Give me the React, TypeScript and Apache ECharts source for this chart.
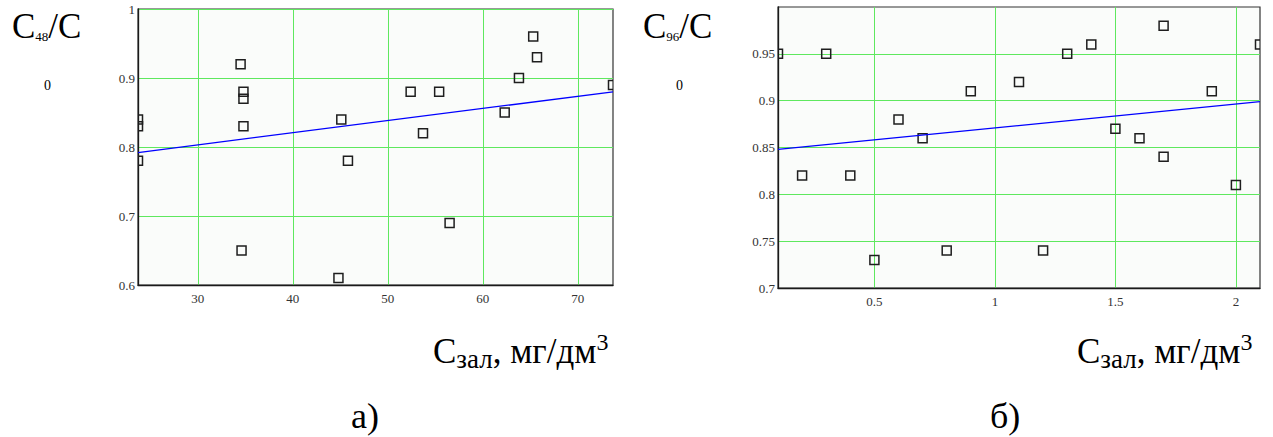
import React, { useEffect, useRef } from "react";
import * as echarts from "echarts";

// ---- Chart (а): C48/C0 vs Cзал ----
const xA = [23.7, 23.7, 23.7, 34.5, 34.8, 34.8, 34.8, 34.6, 45.1, 45.8, 44.8, 52.4, 55.4, 53.7, 56.5, 62.3, 63.8, 65.3, 65.7, 73.7];
const yA = [0.84, 0.83, 0.78, 0.92, 0.88, 0.87, 0.83, 0.65, 0.84, 0.78, 0.61, 0.88, 0.88, 0.82, 0.69, 0.85, 0.90, 0.96, 0.93, 0.89];
const trendAX = [23.7, 73.7];
const trendAY = [0.792, 0.88];
const rangeAX = [23.7, 73.7];
const rangeAY = [0.6, 1.0];
const xTicksA = [30, 40, 50, 60, 70];
const yTicksA = [0.6, 0.7, 0.8, 0.9, 1];

// ---- Chart (б): C96/C0 vs Cзал ----
const xB = [0.1, 0.2, 0.3, 0.4, 0.5, 0.6, 0.7, 0.8, 0.9, 1.1, 1.2, 1.3, 1.4, 1.5, 1.6, 1.7, 1.7, 1.9, 2.0, 2.1];
const yB = [0.95, 0.82, 0.95, 0.82, 0.73, 0.88, 0.86, 0.74, 0.91, 0.92, 0.74, 0.95, 0.96, 0.87, 0.86, 0.98, 0.84, 0.91, 0.81, 0.96];
const trendBX = [0.1, 2.1];
const trendBY = [0.848, 0.899];
const rangeBX = [0.1, 2.1];
const rangeBY = [0.7, 1.0];
const xTicksB = [0.5, 1, 1.5, 2];
const yTicksB = [0.7, 0.75, 0.8, 0.85, 0.9, 0.95];

const SERIF = "Liberation Serif";

let measureCtx: CanvasRenderingContext2D | null = null;
function measure(text: string, size: number): number {
  if (!measureCtx) {
    measureCtx = document.createElement("canvas").getContext("2d");
  }
  if (!measureCtx) return text.length * size * 0.5;
  measureCtx.font = `${size}px "${SERIF}"`;
  return measureCtx.measureText(text).width;
}

type Part = { t: string; size: number; base: number };
function textRun(x: number, parts: Part[]) {
  let cx = x;
  const out: any[] = [];
  for (const p of parts) {
    out.push({
      type: "text",
      x: cx,
      y: p.base - 0.3375 * p.size,
      style: {
        text: p.t,
        fontSize: p.size,
        fontFamily: SERIF,
        fill: "#000",
        align: "left",
        verticalAlign: "middle",
      },
    });
    cx += measure(p.t, p.size);
  }
  return out;
}

const labelStyle = { fontFamily: SERIF, fontSize: 13, color: "#333" };
const gridLine = { show: true, lineStyle: { color: "#5ee85e", width: 1 } };
const axisLine = { show: true, onZero: false, lineStyle: { color: "#1a1a1a", width: 1.3 } };

function xAxis(idx: number, range: number[], ticks: number[]) {
  return {
    type: "value",
    gridIndex: idx,
    min: range[0],
    max: range[1],
    axisLine,
    axisTick: { show: false, customValues: ticks },
    axisLabel: { ...labelStyle, customValues: ticks, margin: 7 },
    splitLine: gridLine,
  };
}
function yAxis(idx: number, range: number[], ticks: number[]) {
  return {
    type: "value",
    gridIndex: idx,
    min: range[0],
    max: range[1],
    axisLine,
    axisTick: { show: false, customValues: ticks },
    axisLabel: { ...labelStyle, customValues: ticks, margin: 3 },
    splitLine: gridLine,
  };
}

function squares(idx: number, xs: number[], ys: number[]) {
  return {
    type: "custom",
    xAxisIndex: idx,
    yAxisIndex: idx,
    clip: true,
    z: 3,
    data: xs.map((x, i) => [x, ys[i]]),
    renderItem: (_params: any, api: any) => {
      const p = api.coord([api.value(0), api.value(1)]);
      return {
        type: "rect",
        shape: { x: p[0] - 4.5, y: p[1] - 4.5, width: 9, height: 9 },
        style: { fill: "none", stroke: "#1e1e1e", lineWidth: 1.5 },
      };
    },
  };
}

function trend(idx: number, xs: number[], ys: number[]) {
  return {
    type: "line",
    xAxisIndex: idx,
    yAxisIndex: idx,
    showSymbol: false,
    symbol: "none",
    z: 4,
    data: xs.map((x, i) => [x, ys[i]]),
    lineStyle: { color: "#0000ff", width: 1.3 },
  };
}

export default function App() {
  const ref = useRef<HTMLDivElement>(null);
  useEffect(() => {
    if (!ref.current) return;
    const chart = echarts.init(ref.current, undefined, { renderer: "svg" });
    const graphics = [
      ...textRun(12, [
        { t: "C", size: 35, base: 38 },
        { t: "48", size: 13, base: 41 },
        { t: "/C", size: 35, base: 38 },
      ]),
      ...textRun(643, [
        { t: "C", size: 35, base: 38 },
        { t: "96", size: 13, base: 41 },
        { t: "/C", size: 35, base: 38 },
      ]),
      ...textRun(44, [{ t: "0", size: 14, base: 90 }]),
      ...textRun(676, [{ t: "0", size: 14, base: 90 }]),
      ...textRun(433, [
        { t: "С", size: 35, base: 363 },
        { t: "зал", size: 27, base: 368 },
        { t: ", мг/дм", size: 35, base: 363 },
        { t: "3", size: 24, base: 350 },
      ]),
      ...textRun(1077, [
        { t: "С", size: 35, base: 363 },
        { t: "зал", size: 27, base: 368 },
        { t: ", мг/дм", size: 35, base: 363 },
        { t: "3", size: 24, base: 350 },
      ]),
      ...textRun(351, [{ t: "а)", size: 36, base: 428 }]),
      ...textRun(990, [{ t: "б)", size: 36, base: 428 }]),
    ];
    chart.setOption({
      animation: false,
      backgroundColor: "#ffffff",
      grid: [
        { left: 138, top: 9, width: 475, height: 276, show: true, backgroundColor: "#fafcfa", borderColor: "#333", borderWidth: 1.2 },
        { left: 778, top: 7, width: 482, height: 281, show: true, backgroundColor: "#fafcfa", borderColor: "#333", borderWidth: 1.2 },
      ],
      xAxis: [xAxis(0, rangeAX, xTicksA), xAxis(1, rangeBX, xTicksB)],
      yAxis: [yAxis(0, rangeAY, yTicksA), yAxis(1, rangeBY, yTicksB)],
      series: [
        trend(0, trendAX, trendAY),
        squares(0, xA, yA),
        trend(1, trendBX, trendBY),
        squares(1, xB, yB),
      ],
      graphic: graphics,
    });
    return () => chart.dispose();
  }, []);
  return (
    <div
      ref={ref}
      style={{ position: "fixed", left: 0, top: 0, width: 1273, height: 437, background: "#fff" }}
    />
  );
}
